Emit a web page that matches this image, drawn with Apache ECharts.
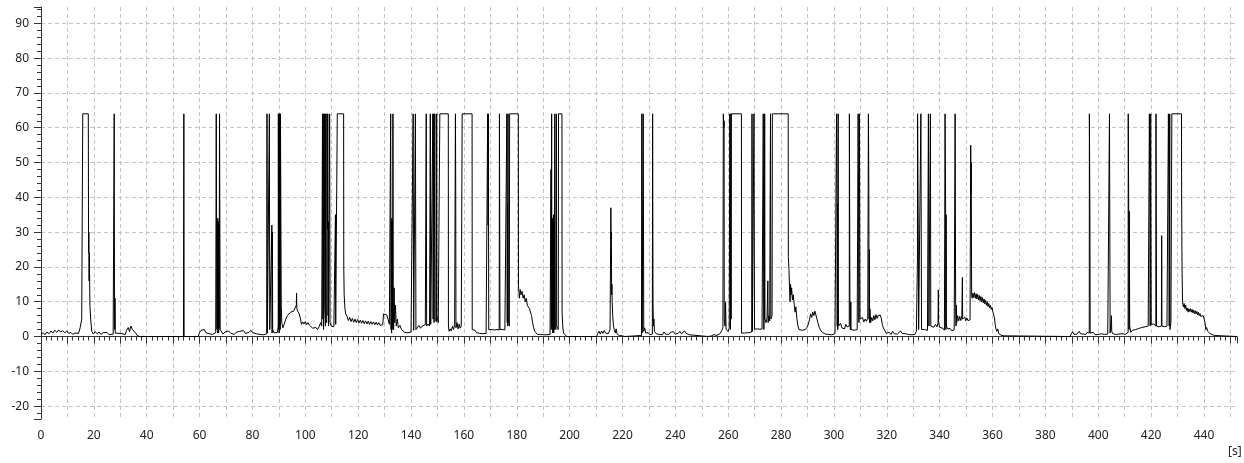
<!DOCTYPE html>
<html>
<head>
<meta charset="utf-8">
<script src="https://cdn.jsdelivr.net/npm/echarts@6/dist/echarts.min.js"></script>
<style>
  html, body { margin: 0; padding: 0; background: #fff; }
  #chart { width: 1244px; height: 463px; }
</style>
</head>
<body>
<div id="chart"></div>
<script>
// signal trace, [time in s, value]
const trace0to37 = [
  [0, 0.6], [0.8, 1.1], [1.5, 0.5], [2.2, 1.3], [3, 0.8], [3.8, 1.6], [4.5, 1.0], [5.2, 1.8], [6, 1.2], [6.7, 1.9],
  [7.4, 1.3], [8.2, 1.7], [9, 1.1], [9.8, 1.6], [10.5, 0.9], [11.3, 1.2], [12, 0.6], [12.8, 1.0], [13.5, 0.5], [14.2, 0.9],
  [14.8, 2.5], [15.4, 5], [15.8, 64], [17.9, 64], [18.0, 24], [18.1, 30], [18.2, 16], [18.3, 24], [18.5, 9], [18.8, 5],
  [19.2, 1.5], [19.8, 0.7], [20.5, 1.4], [21.2, 0.8], [22, 1.3], [22.7, 0.6], [23.5, 1.1], [24.2, 0.9], [25, 1.2], [25.8, 0.5],
  [26.5, 1.0], [27.3, 0.7], [27.6, 0.8], [27.7, 64], [27.8, 11], [27.9, 2], [28.0, 11], [28.1, 1], [28.8, 0.6], [29.5, 0.9],
  [30.2, 0.5], [31, 0.8], [31.8, 0.5], [32.4, 1.8], [33, 2.6], [33.5, 1.4], [34, 3.0], [34.6, 2.0], [35.2, 2.4], [35.8, 1.0],
  [36.3, 0.4], [37.2, 0],
]
const trace37to85 = [
  [53.9, 0], [54.05, 64], [54.15, 0], [59.5, 0], [60, 1.2], [60.6, 1.8], [61.2, 1.3], [61.8, 2.0], [62.4, 1.1], [63, 1.4],
  [63.6, 0.8], [64.2, 1.0], [64.8, 0.6], [65.5, 0.9], [66.1, 1.1], [66.3, 64], [66.45, 64], [66.55, 2], [66.7, 33], [66.8, 1],
  [66.9, 34], [67.0, 2], [67.1, 33], [67.2, 1], [67.3, 32], [67.4, 2], [67.55, 64], [67.7, 64], [67.8, 2], [68.2, 1.5],
  [68.9, 0.7], [69.6, 1.3], [70.3, 0.9], [71, 1.6], [71.7, 1.0], [72.4, 1.4], [73.1, 0.6], [73.8, 1.2], [74.5, 0.8], [75.2, 1.5],
  [75.9, 1.0], [76.6, 1.7], [77.3, 0.9], [78, 1.4], [78.7, 1.2], [79.4, 1.8], [80.1, 1.1], [80.8, 1.5], [81.5, 0.8], [82.2, 1.3],
  [82.9, 0.6], [83.6, 1.0], [84.3, 0.5], [85, 0.8],
]
const trace85to115 = [
  [85.4, 0.8], [85.5, 64], [85.6, 64], [85.65, 1], [86.3, 1], [86.4, 64], [86.5, 64], [86.55, 2], [87.3, 2], [87.35, 32],
  [87.45, 1], [87.55, 30], [87.65, 2], [88.2, 1], [88.8, 0.6], [89.5, 1.2], [89.75, 3], [89.8, 64], [89.9, 2], [90.0, 64],
  [90.1, 1], [90.2, 64], [90.3, 3], [90.4, 64], [90.5, 2], [90.6, 64], [90.85, 64], [90.9, 9], [91.1, 4], [91.5, 2.5],
  [92, 3.5], [92.6, 5], [93.2, 6], [93.8, 6.5], [94.4, 7], [95, 6.8], [95.6, 7.3], [96.2, 7.5], [96.6, 9], [96.7, 12.5],
  [96.8, 8], [97.2, 7.2], [97.7, 6.5], [98.2, 5], [98.5, 3.5], [99, 4.2], [99.5, 3.6], [100, 4.3], [100.5, 3.4], [101, 4],
  [101.6, 3.2], [102.2, 2.8], [102.8, 2.4], [103.4, 2.2], [104, 2.6], [104.6, 2], [105.2, 2.8], [105.8, 4], [106.2, 3], [106.4, 41],
  [106.5, 64], [106.6, 64], [106.65, 5], [106.8, 64], [106.9, 2], [107.2, 64], [107.3, 64], [107.35, 8], [107.6, 3], [107.7, 64],
  [107.8, 5], [108.1, 4], [108.2, 64], [108.3, 35], [108.4, 31], [108.5, 64], [108.6, 6], [108.7, 33], [108.8, 3], [109.2, 64],
  [109.3, 64], [109.35, 4], [109.8, 3], [110.3, 3.5], [110.8, 2.8], [111.3, 3.2], [111.4, 35], [111.5, 3.5], [112, 3.2], [112.1, 64],
  [114.5, 64], [114.55, 20], [114.7, 12], [115, 8], [115.3, 6.5],
]
const trace115to199 = [
  [115.8, 5.8], [116.3, 4.6], [116.8, 5.5], [117.3, 4.3], [117.8, 5.2], [118.3, 4.1], [118.8, 5.0], [119.3, 4.0], [119.8, 4.9], [120.3, 3.9],
  [120.8, 4.7], [121.3, 3.8], [121.8, 4.6], [122.3, 3.7], [122.8, 4.5], [123.3, 3.6], [123.8, 4.4], [124.3, 3.5], [124.8, 4.3], [125.3, 3.5],
  [125.8, 4.2], [126.3, 3.4], [126.8, 4.1], [127.3, 3.3], [127.8, 4.0], [128.3, 3.2], [128.8, 3.6], [129.3, 3.4], [129.6, 6.5], [130.2, 7],
  [130.8, 6.2], [131.3, 5], [131.8, 3.5], [132.2, 3], [132.3, 64], [132.4, 64], [132.45, 2], [132.55, 33], [132.65, 1], [132.75, 34],
  [132.85, 2], [132.95, 33], [133.05, 3], [133.15, 64], [133.25, 15], [133.4, 2], [133.6, 14], [133.8, 4], [134.1, 9], [134.4, 3],
  [134.8, 5], [135.2, 2.5], [135.8, 3.2], [136.4, 2], [137, 1.5], [137.6, 1.2], [138.2, 0.9], [138.8, 1.1], [139.4, 0.8], [140, 1.3],
  [140.7, 1.5], [140.8, 64], [140.95, 64], [141.0, 1.8], [141.6, 1.5], [141.65, 64], [141.8, 64], [141.85, 2], [142.4, 2.5], [143, 3.2],
  [143.6, 2.4], [144.2, 3.0], [144.8, 2.7], [145.4, 3.4], [145.7, 3], [145.75, 64], [145.85, 64], [145.9, 3], [146.4, 3.6], [147, 3.0],
  [147.25, 3.2], [147.3, 64], [147.4, 64], [147.45, 3.5], [148.2, 4], [148.25, 64], [148.35, 5], [148.6, 64], [148.7, 4], [149, 64],
  [149.1, 64], [149.15, 5], [149.6, 4.2], [149.7, 64], [149.8, 6], [150.3, 4], [150.85, 4.5], [150.9, 64], [154.1, 64], [154.15, 3],
  [154.4, 1.5], [154.8, 2.2], [155.2, 1.6], [155.7, 3], [156.1, 2], [156.5, 3.5], [156.75, 3.2], [156.8, 64], [156.9, 45], [157, 2.5],
  [157.4, 4], [157.8, 2.2], [158.2, 3.6], [158.6, 2.4], [159, 3], [159.3, 2.8], [159.35, 64], [163.1, 64], [163.15, 2], [163.6, 1.5],
  [164.2, 1.8], [164.8, 1.1], [165.4, 1.4], [166, 0.9], [166.6, 1.3], [167.2, 0.8], [167.8, 1.0], [168.4, 0.9], [168.9, 1.2], [169, 64],
  [169.1, 64], [169.15, 32], [169.25, 64], [169.35, 64], [169.4, 2], [169.5, 1.9], [170.5, 2], [171.5, 1.9], [172.5, 2], [173.35, 1.9],
  [173.45, 64], [173.6, 64], [173.65, 2], [174.5, 2], [175.5, 1.9], [176.2, 2], [176.25, 64], [176.35, 64], [176.4, 4], [176.5, 38],
  [176.6, 3], [176.7, 64], [176.8, 5], [177.2, 3], [177.3, 64], [180.6, 64], [180.65, 14.5], [181, 11], [181.3, 13.5], [181.6, 12],
  [182, 13], [182.4, 11], [182.8, 12], [183.2, 10], [183.6, 11], [184, 9], [184.4, 9.5], [184.8, 8], [185.2, 7.5], [185.6, 6],
  [186, 4], [186.4, 2.5], [186.8, 1.5], [187.3, 1], [187.8, 0.6], [188.4, 0.4], [189, 0.6], [189.6, 0.4], [190.2, 0.5], [190.8, 0.3],
  [191.4, 0.5], [192, 0.4], [192.6, 0.6], [192.9, 1], [192.95, 48], [193.05, 2], [193.2, 64], [193.3, 3], [193.5, 34], [193.6, 1],
  [193.7, 33], [193.8, 2], [193.9, 35], [194, 1], [194.1, 33], [194.2, 2], [194.4, 64], [194.5, 64], [194.55, 3], [194.8, 2],
  [195, 64], [195.1, 3], [195.7, 2], [195.8, 64], [197.1, 64], [197.15, 7], [197.4, 3], [197.7, 1], [198.2, 0.5], [198.9, 0],
]
const trace199to301 = [
  [210.2, 0], [210.6, 0.8], [211.1, 1.5], [211.6, 0.7], [212.1, 1.6], [212.6, 0.9], [213.1, 1.7], [213.6, 1.0], [214.1, 1.4], [214.6, 0.8],
  [215, 1.1], [215.3, 2], [215.6, 37], [215.7, 28], [215.8, 30], [215.9, 12], [216, 15], [216.1, 10], [216.3, 6], [216.6, 3],
  [216.9, 2], [217.3, 1], [217.6, 2.2], [217.9, 0.8], [218.3, 1.3], [218.8, 0.3], [219.3, 0.5], [220, 0.2], [220.9, 0], [227.2, 0.3],
  [227.3, 64], [227.4, 64], [227.45, 1], [227.8, 0.8], [227.85, 64], [228, 64], [228.05, 1.5], [228.4, 2.5], [228.8, 1], [229.3, 0.6],
  [229.8, 1.1], [230.3, 0.5], [230.8, 0.9], [231.3, 0.7], [231.4, 64], [231.5, 64], [231.55, 10], [231.7, 3], [231.9, 5], [232.1, 1.5],
  [232.4, 2], [232.8, 0.8], [233.3, 1.2], [233.9, 0.6], [234.5, 1.0], [235.1, 0.5], [235.7, 1.3], [236.3, 0.7], [236.9, 1.1], [237.5, 0.6],
  [238.1, 1.2], [238.7, 0.8], [239.3, 1.4], [239.9, 0.7], [240.5, 1.2], [241.1, 0.9], [241.7, 1.5], [242.3, 0.8], [242.9, 1.3], [243.5, 1.6],
  [244.1, 0.9], [244.7, 1.4], [245.3, 0.5], [246, 0], [252.4, 0], [253, 0.4], [253.8, 0.2], [254.6, 0.6], [255.4, 0.3], [256.2, 0.5],
  [257, 0.9], [257.6, 1.8], [258, 2.5], [258.1, 3], [258.15, 64], [258.3, 64], [258.35, 60], [258.45, 62], [258.5, 5], [258.8, 3],
  [259, 10], [259.2, 2], [259.5, 2], [260, 1.5], [260.4, 2.5], [260.6, 64], [260.7, 64], [260.75, 34], [260.85, 2], [260.95, 33],
  [261.05, 64], [261.1, 5], [261.15, 64], [265, 64], [265.05, 1], [265.5, 1.2], [266.2, 1.0], [266.9, 1.3], [267.6, 1.1], [268.3, 1.2],
  [268.9, 1.3], [269, 64], [269.1, 64], [269.15, 1.5], [269.7, 1.5], [269.75, 64], [269.9, 64], [269.95, 2.1], [270.5, 2.1], [271.2, 2.2],
  [272, 2.1], [272.8, 2.2], [273.2, 2.2], [273.25, 64], [273.35, 64], [273.4, 35], [273.5, 2], [273.6, 36], [273.7, 5], [273.8, 64],
  [273.9, 5], [274.3, 4], [274.7, 5.5], [275, 16], [275.1, 4], [275.4, 6], [275.7, 4.5], [276, 64], [276.1, 64], [276.15, 5],
  [276.6, 6], [276.7, 64], [282.7, 64], [282.75, 23], [283, 19], [283.2, 14], [283.4, 10], [283.6, 15], [283.8, 12], [284, 14],
  [284.3, 10.5], [284.6, 12], [285, 9], [285.3, 7], [285.6, 8.5], [286, 5], [286.4, 3], [286.8, 2], [287.4, 2.5], [288, 1.8],
  [288.6, 2.2], [289.2, 2], [289.8, 2.6], [290.3, 3.5], [290.8, 5], [291.2, 6.5], [291.6, 5.5], [292, 7], [292.4, 6], [292.8, 7.3],
  [293.2, 6.8], [293.6, 5], [294, 3.8], [294.5, 2.5], [295, 1.8], [295.6, 1.2], [296.2, 0.9], [296.8, 0.7], [297.4, 0.9], [298, 0.6],
  [298.6, 0.8], [299.2, 0.5], [299.8, 0.7], [300.4, 0.8], [300.9, 1],
]
const trace301to365 = [
  [301, 64], [301.1, 64], [301.15, 40], [301.25, 3], [301.35, 38], [301.45, 2], [301.6, 64], [301.7, 3], [302, 2.5], [302.5, 3.8],
  [303, 2.5], [303.5, 3], [304, 2.2], [304.5, 3.5], [305, 2.8], [305.5, 3], [305.8, 3], [305.85, 64], [306, 64], [306.05, 10],
  [306.2, 2], [306.4, 10], [306.5, 2], [307, 2.2], [307.6, 1.8], [308.2, 2.3], [308.8, 2], [309.1, 2], [309.15, 64], [309.3, 64],
  [309.35, 35], [309.45, 4], [309.55, 34], [309.65, 64], [309.8, 64], [309.85, 5], [310.3, 4.5], [310.8, 5.5], [311.3, 4.2], [311.8, 5],
  [312.3, 4.4], [312.8, 5.2], [313, 5], [313.05, 64], [313.15, 64], [313.2, 43], [313.3, 5], [313.4, 25], [313.5, 4], [313.6, 8],
  [313.9, 4], [314.3, 5.5], [314.7, 4.5], [315.1, 6], [315.5, 4.8], [315.9, 6.3], [316.3, 5.2], [316.7, 6], [317.1, 5.5], [317.5, 6.2],
  [317.9, 5.3], [318.3, 3.5], [318.7, 2.5], [319.2, 1.8], [319.8, 0.9], [320.4, 0.5], [321, 1.2], [321.6, 0.6], [322.2, 1.5], [322.8, 0.8],
  [323.4, 1.3], [324, 0.7], [324.6, 1.1], [325.2, 1.6], [325.8, 0.9], [326.4, 1.4], [327, 0.8], [327.6, 1.2], [328.2, 0.6], [328.8, 1.0],
  [329.4, 0.5], [330, 0.9], [330.6, 0.6], [331.2, 1.5], [331.5, 2], [331.6, 22], [331.65, 64], [331.9, 64], [331.95, 24], [332.05, 2],
  [332.6, 2.5], [332.9, 64], [333.1, 64], [333.15, 2], [333.6, 2.2], [334.2, 2], [334.8, 2.5], [335.4, 1.8], [335.7, 2], [335.75, 64],
  [335.9, 64], [335.95, 3], [336.4, 2.8], [336.5, 64], [336.6, 64], [336.65, 3], [337.2, 3.2], [337.8, 2.7], [338.4, 3.5], [339, 2.8],
  [339.4, 4], [339.5, 13.4], [339.6, 4], [340, 2.6], [340.6, 2.1], [341.2, 2.4], [341.8, 1.8], [342, 2], [342.05, 64], [342.2, 64],
  [342.25, 37], [342.35, 2], [342.45, 35], [342.55, 3], [343, 2.2], [343.5, 1.8], [344, 2.3], [344.5, 1.7], [345, 2.1], [345.5, 1.9],
  [345.8, 2], [345.85, 64], [346, 64], [346.05, 10], [346.2, 3], [346.3, 9], [346.45, 4], [346.8, 6], [347.2, 4.5], [347.6, 5.8],
  [348, 4.6], [348.4, 6], [348.6, 17], [348.7, 5], [349.1, 4.8], [349.5, 5.6], [349.9, 4.5], [350.3, 5.3], [350.7, 4.6], [351.1, 5.1],
  [351.5, 4.8], [351.7, 4.5], [351.75, 55], [351.85, 41], [351.95, 50], [352.1, 12], [352.3, 11], [352.6, 12.5], [352.9, 11.2], [353.2, 12.6],
  [353.5, 11], [353.8, 12.3], [354.1, 10.8], [354.4, 12.1], [354.7, 10.5], [355, 11.8], [355.3, 10.3], [355.6, 11.5], [355.9, 10], [356.2, 11.2],
  [356.5, 9.7], [356.8, 10.8], [357.1, 9.4], [357.4, 10.4], [357.7, 9], [358, 10], [358.3, 8.6], [358.6, 9.5], [358.9, 8.2], [359.2, 9],
  [359.5, 7.8], [359.8, 8.4], [360.1, 7.2], [360.4, 7.5], [360.7, 5.5], [361, 3.5], [361.3, 2.2], [361.6, 1.5], [362, 2.2], [362.4, 0.8],
  [362.8, 1.3], [363.2, 0.4], [363.7, 0.8], [364.3, 0.2], [365, 0],
]
const trace365to453 = [
  [389.3, 0], [389.8, 0.8], [390.3, 1.4], [390.8, 0.7], [391.3, 1.2], [391.8, 0.6], [392.3, 1.1], [392.8, 1.5], [393.3, 0.8], [393.8, 1.3],
  [394.3, 0.7], [394.8, 1.0], [395.3, 0.6], [395.8, 1.2], [396.3, 0.9], [396.6, 1], [396.65, 64], [396.8, 64], [396.85, 34], [396.95, 1],
  [397.1, 1.2], [397.6, 0.7], [398.2, 1.2], [398.8, 0.5], [399.4, 1.0], [400, 0.6], [400.6, 1.1], [401.2, 0.8], [401.8, 1.3], [402.4, 0.6],
  [403, 1.0], [403.6, 0.7], [404.2, 0.8], [404.25, 64], [404.45, 64], [404.5, 1], [404.8, 1.5], [405, 6], [405.1, 1.5], [405.5, 0.8],
  [406, 1.3], [406.6, 0.6], [407.2, 1.1], [407.8, 0.7], [408.4, 1.2], [409, 0.8], [409.6, 1.0], [410.2, 0.6], [410.8, 1.1], [411.3, 1.2],
  [411.35, 64], [411.5, 64], [411.55, 35], [411.65, 2], [411.75, 36], [411.9, 3], [412.3, 1.2], [412.9, 1.8], [413.5, 1.4], [414.1, 2.0],
  [414.7, 1.6], [415.3, 2.3], [415.9, 1.9], [416.5, 2.6], [417.1, 2.2], [417.7, 2.8], [418.3, 2.5], [418.9, 3], [419.3, 3], [419.35, 64],
  [419.5, 64], [419.55, 35], [419.65, 3], [419.75, 36], [419.85, 64], [420, 64], [420.05, 3.5], [420.5, 3], [421, 3.6], [421.5, 3.2],
  [421.8, 3], [421.85, 64], [422, 64], [422.05, 3], [422.5, 3.4], [423, 2.8], [423.5, 3.2], [423.9, 3], [424, 29], [424.1, 3],
  [424.5, 3.5], [425, 2.8], [425.5, 3.3], [426, 3], [426.5, 3.2], [426.55, 64], [426.7, 64], [426.75, 35], [426.85, 3], [426.95, 36],
  [427.05, 64], [427.15, 2], [427.5, 4], [427.8, 3.5], [427.85, 64], [431.5, 64], [431.55, 41], [431.7, 20], [431.9, 10], [432.2, 8.5],
  [432.5, 9.5], [432.8, 8], [433.1, 9], [433.4, 7.5], [433.7, 8.2], [434, 7], [434.3, 8], [434.6, 7.2], [434.9, 8], [435.2, 7],
  [435.5, 7.8], [435.8, 6.8], [436.1, 7.6], [436.4, 6.6], [436.7, 7.4], [437, 6.5], [437.3, 7.2], [437.6, 6.2], [437.9, 7], [438.2, 6],
  [438.5, 6.6], [438.8, 5.8], [439.1, 6.3], [439.4, 5.5], [439.7, 6], [440, 5.3], [440.4, 4], [440.7, 2], [441, 2.6], [441.4, 1.5],
  [441.8, 2], [442.2, 0.9], [442.6, 1.4], [443, 0.6], [443.5, 1], [444, 0.3], [444.5, 0], [452.5, 0],
]

const xMax = 452.5
const yMin = -23.7
const yMax = 94.7

function lineGene(el) {
  const myChart = window.echarts.init(el)
  const fontFamily = 'Noto Sans'
  const axisColor = '#333'
  const gridLine = {
    show: true,
    showMinLine: true,
    showMaxLine: false,
    lineStyle: { color: '#c4c4c4', type: [4, 3], width: 1 },
  }
  const data = [].concat(
    trace0to37,
    trace37to85,
    trace85to115,
    trace115to199,
    trace199to301,
    trace301to365,
    trace365to453
  )
  const option = {
    animation: false,
    backgroundColor: '#fff',
    grid: { left: 41, right: 7, top: 7, bottom: 44 },
    xAxis: {
      type: 'value',
      min: 0,
      max: xMax,
      interval: 10,
      axisLine: { show: true, lineStyle: { color: axisColor, width: 1 } },
      axisTick: { show: true, length: 7, lineStyle: { color: axisColor } },
      minorTick: { show: true, splitNumber: 5, length: 4, lineStyle: { color: axisColor } },
      axisLabel: {
        margin: 11,
        fontSize: 12,
        fontFamily,
        color: '#222',
        showMaxLabel: false,
        formatter: (v) => (v % 20 === 0 ? String(v) : ''),
      },
      splitLine: gridLine,
    },
    yAxis: {
      type: 'value',
      min: yMin,
      max: yMax,
      splitNumber: 12,
      offset: 3,
      axisLine: { show: true, lineStyle: { color: axisColor, width: 1 } },
      axisTick: { show: true, length: 7, lineStyle: { color: axisColor } },
      minorTick: { show: true, splitNumber: 5, length: 4, lineStyle: { color: axisColor } },
      axisLabel: {
        margin: 9,
        fontSize: 12,
        fontFamily,
        color: '#222',
        showMinLabel: false,
        showMaxLabel: false,
        formatter: (v) => (Math.abs(v % 10) < 1e-6 ? String(v) : ''),
      },
      splitLine: { ...gridLine, showMinLine: false },
    },
    graphic: [
      {
        type: 'text',
        left: 1228,
        top: 446,
        style: { text: '[s]', fontSize: 12, fontFamily, fill: '#222' },
      },
    ],
    series: [
      {
        type: 'line',
        data,
        showSymbol: false,
        symbol: 'none',
        lineStyle: { color: '#000', width: 1 },
        clip: true,
      },
    ],
  }
  myChart.setOption(option, true)
  return myChart
}

lineGene(document.getElementById('chart'))
</script>
</body>
</html>
